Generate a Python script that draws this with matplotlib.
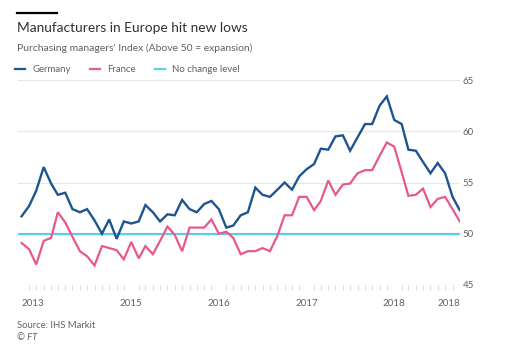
import matplotlib
matplotlib.use("Agg")
import matplotlib.pyplot as plt
import matplotlib.dates as mdates
from matplotlib.lines import Line2D
import pandas as pd

# monthly PMI readings, Oct 2013 - Oct 2018
months = pd.date_range("2013-10-01", periods=61, freq="MS")
germany = [51.7, 52.7, 54.2, 56.5, 54.9, 53.8, 54.0, 52.4, 52.1, 52.4,
           51.3, 50.0, 51.4, 49.5, 51.2, 51.0, 51.2, 52.8, 52.1, 51.2,
           51.9, 51.8, 53.3, 52.4, 52.1, 52.9, 53.2, 52.4, 50.6, 50.8,
           51.8, 52.1, 54.5, 53.8, 53.6, 54.3, 55.0, 54.3, 55.6, 56.3,
           56.8, 58.3, 58.2, 59.5, 59.6, 58.1, 59.4, 60.7, 60.7, 62.5,
           63.4, 61.1, 60.7, 58.2, 58.1, 57.0, 55.9, 56.9, 55.9, 53.6, 52.3]
france = [49.1, 48.5, 47.0, 49.3, 49.6, 52.1, 51.1, 49.7, 48.3, 47.8,
          46.9, 48.8, 48.6, 48.4, 47.5, 49.2, 47.6, 48.8, 48.0, 49.3,
          50.7, 49.9, 48.3, 50.6, 50.6, 50.6, 51.4, 50.0, 50.2, 49.6,
          48.0, 48.3, 48.3, 48.6, 48.3, 49.8, 51.8, 51.8, 53.6, 53.6,
          52.3, 53.2, 55.2, 53.8, 54.8, 54.9, 55.9, 56.2, 56.2, 57.6,
          58.9, 58.5, 56.0, 53.7, 53.8, 54.4, 52.6, 53.4, 53.6, 52.4, 51.2]
no_change = 50
tick_dates = pd.to_datetime(["2013-10-01", "2015-01-01", "2016-01-01",
                             "2017-01-01", "2018-01-01", "2018-10-01"])
tick_labels = ["2013", "2015", "2016", "2017", "2018", "2018"]
y_ticks = [45, 50, 55, 60, 65]

plt.rcParams["font.family"] = ["Lato", "DejaVu Sans"]

W, H = 512, 351
fig = plt.figure(figsize=(W / 100, H / 100), dpi=100)
fig.patch.set_facecolor("white")

def fx(px):
    return px / W

def fy(py):
    return 1 - py / H

ax = fig.add_axes([fx(18), fy(285), fx(460 - 18), fy(80) - fy(285)])

blue = "#1d5591"
pink = "#e8588a"
cyan = "#55d2dc"
grey = "#66605c"

ax.axhline(no_change, color=cyan, lw=1.5, zorder=2)
ax.plot(months, france, color=pink, lw=1.6, zorder=3, solid_joinstyle="miter")
ax.plot(months, germany, color=blue, lw=1.7, zorder=4, solid_joinstyle="miter")

ax.set_ylim(45, 65)
ax.set_xlim(months[0] - pd.Timedelta(days=15), months[-1] + pd.Timedelta(days=1))

for s in ax.spines.values():
    s.set_visible(False)
ax.set_yticks(y_ticks)
ax.yaxis.tick_right()
ax.grid(axis="y", color="#e9e6e3", lw=0.8, zorder=0)
ax.tick_params(axis="y", length=0, pad=2, labelsize=7, labelcolor=grey)

ax.set_xticks(tick_dates)
ax.set_xticklabels(tick_labels)
ax.xaxis.set_minor_locator(mdates.MonthLocator())
ax.tick_params(axis="x", which="major", length=0, pad=10, labelsize=7, labelcolor=grey)
ax.tick_params(axis="x", which="minor", length=3.5, width=0.6, color="#d6d2ce")
lbls = ax.get_xticklabels()
lbls[0].set_ha("left")
lbls[-1].set_ha("right")

# header
fig.add_artist(Line2D([fx(17), fx(57)], [fy(12.5), fy(12.5)], color="black", lw=1.6))
fig.text(fx(17), fy(28), "Manufacturers in Europe hit new lows", fontsize=9.9,
         color="#33302e", va="center", ha="left")
fig.text(fx(17), fy(48), "Purchasing managers' Index (Above 50 = expansion)", fontsize=7.5,
         color=grey, va="center", ha="left")

handles = [Line2D([], [], color=blue, lw=1.6),
           Line2D([], [], color=pink, lw=1.6),
           Line2D([], [], color=cyan, lw=1.6)]
fig.legend(handles, ["Germany", "France", "No change level"], loc="center left",
           bbox_to_anchor=(fx(15), fy(70)), ncol=3, frameon=False, fontsize=6.9,
           labelcolor=grey, handlelength=1.0, handletextpad=0.8, columnspacing=2.0,
           borderpad=0, borderaxespad=0)

fig.text(fx(17), fy(325), "Source: IHS Markit", fontsize=6.8, color=grey, va="center")
fig.text(fx(17), fy(338), "\u00a9 FT", fontsize=6.8, color=grey, va="center", style="italic")

fig.savefig("out.png", dpi=100)
